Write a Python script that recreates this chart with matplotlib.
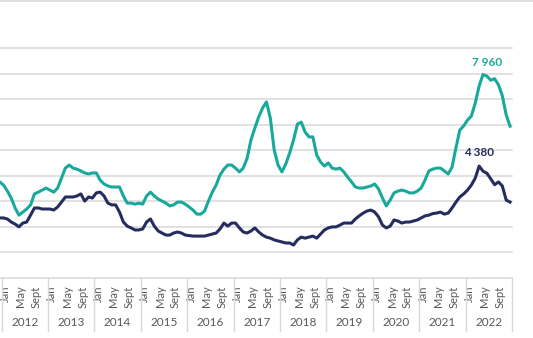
import matplotlib
matplotlib.use("Agg")
import matplotlib.pyplot as plt
from matplotlib.lines import Line2D
from matplotlib.transforms import blended_transform_factory
import pandas as pd

# Monthly series, December 2011 through December 2022
months = pd.period_range("2011-12", "2022-12", freq="M")

series_teal = [
    3760,
    3640, 3400, 3130, 2740, 2460, 2580, 2700, 2860, 3290, 3360, 3440, 3520,
    3440, 3360, 3520, 3910, 4300, 4420, 4300, 4260, 4190, 4110, 4070, 4110,
    4110, 3830, 3680, 3600, 3560, 3560, 3560, 3210, 2930, 2930, 2890, 2930,
    2890, 3210, 3360, 3210, 3090, 3010, 2930, 2820, 2860, 2970, 2970, 2890,
    2780, 2660, 2500, 2500, 2620, 3010, 3360, 3640, 4030, 4260, 4420, 4420,
    4300, 4150, 4300, 4690, 5400, 5870, 6300, 6650, 6890, 6260, 5010, 4420,
    4150, 4460, 4890, 5400, 6020, 6100, 5710, 5520, 5520, 4810, 4540, 4380,
    4500, 4300, 4260, 4300, 4150, 3950, 3760, 3560, 3520, 3520, 3560, 3600,
    3680, 3480, 3130, 2820, 3050, 3330, 3400, 3440, 3400, 3330, 3330, 3400,
    3520, 3830, 4190, 4260, 4300, 4300, 4190, 4070, 4340, 5090, 5790, 5950,
    6180, 6340, 6850, 7510, 7960, 7900, 7740, 7800, 7560, 7130, 6380, 5940,
]

series_navy = [
    2350,
    2350, 2310, 2190, 2110, 2000, 2150, 2190, 2460, 2740, 2740, 2700, 2700,
    2700, 2660, 2780, 2970, 3170, 3170, 3170, 3210, 3290, 3010, 3170, 3130,
    3330, 3360, 3210, 2930, 2860, 2860, 2580, 2190, 2030, 1960, 1880, 1880,
    1920, 2190, 2310, 2030, 1840, 1760, 1680, 1680, 1760, 1800, 1760, 1680,
    1660, 1640, 1640, 1640, 1640, 1680, 1720, 1760, 1920, 2150, 2030, 2150,
    2150, 1960, 1800, 1760, 1840, 1960, 1800, 1680, 1600, 1560, 1490, 1450,
    1410, 1370, 1370, 1290, 1490, 1600, 1560, 1600, 1640, 1560, 1720, 1880,
    1960, 2000, 2000, 2070, 2150, 2150, 2150, 2310, 2430, 2540, 2620, 2660,
    2580, 2390, 2070, 1960, 2030, 2270, 2230, 2150, 2190, 2190, 2230, 2270,
    2350, 2430, 2460, 2520, 2540, 2580, 2500, 2540, 2740, 2970, 3170, 3290,
    3440, 3640, 3910, 4380, 4180, 4100, 3880, 3650, 3760, 3600, 3050, 2970,
]

month_tick_names = {1: "Jan", 5: "May", 9: "Sept"}
years = list(range(2012, 2023))
peak_labels = {"teal": 7960, "navy": 4380}

TEAL = "#19a99c"
NAVY = "#252d5f"
GRID = "#d9d9d9"
TEXT = "#595959"

plt.rcParams["font.family"] = ["Lato", "DejaVu Sans"]

W, H = 533, 338
fig = plt.figure(figsize=(W / 100, H / 100), dpi=100)

# plot area in pixels: x from 0 to 512, y baseline at 278, 9000 at 48
ax = fig.add_axes([0, (H - 278) / H, 512 / W, 230 / H])

# position index: 0 = January 2012
pos = [(p.year - 2012) * 12 + (p.month - 1) for p in months]

ax.plot(pos, series_teal, color=TEAL, lw=2.2, solid_joinstyle="round", zorder=3)
ax.plot(pos, series_navy, color=NAVY, lw=2.2, solid_joinstyle="round", zorder=3)

ax.set_xlim(-0.905, 131.5)
ax.set_ylim(0, 9000)

for v in range(0, 9001, 1000):
    ax.axhline(v, color=GRID, lw=1.1, zorder=1, clip_on=False)

for s in ax.spines.values():
    s.set_visible(False)
ax.set_yticks([])

# month labels sit a little right of each month's centre
tick_pos = [pos[i] + 0.5 for i, p in enumerate(months) if p.year >= 2012 and p.month in month_tick_names]
tick_lab = [month_tick_names[p.month] for p in months if p.year >= 2012 and p.month in month_tick_names]
ax.set_xticks(tick_pos)
ax.set_xticklabels(tick_lab, rotation=90, va="top", ha="center", fontsize=8, color=TEXT)
ax.tick_params(axis="x", length=0, pad=5.5)

# year labels and separators below the axis
trans = blended_transform_factory(ax.transData, ax.transAxes)
sep_bottom = (278 - 331) / 230
for i, yr in enumerate(years):
    ax.text(i * 12 + 5.5, (278 - 323) / 230, str(yr), transform=trans,
            ha="center", va="center", fontsize=8.5, color=TEXT)
for i in range(len(years) + 1):
    ax.add_line(Line2D([i * 12 - 0.5, i * 12 - 0.5], [0, sep_bottom], transform=trans,
                       color=GRID, lw=1.0, clip_on=False))

# peak value labels
i_t = series_teal.index(peak_labels["teal"])
ax.annotate("7 960", xy=(pos[i_t], series_teal[i_t]), xytext=(3, 9), textcoords="offset points",
            ha="center", va="center", fontsize=8.5, fontweight="bold", color=TEAL)
i_n = series_navy.index(peak_labels["navy"])
ax.annotate("4 380", xy=(pos[i_n], series_navy[i_n]), xytext=(0, 10), textcoords="offset points",
            ha="center", va="center", fontsize=8.5, fontweight="bold", color=NAVY)

# frame line across the top of the figure
fig.add_artist(Line2D([0, 1], [1 - 1 / H, 1 - 1 / H], transform=fig.transFigure, color=GRID, lw=1.2))

fig.savefig("out.png", dpi=100, facecolor="white")
